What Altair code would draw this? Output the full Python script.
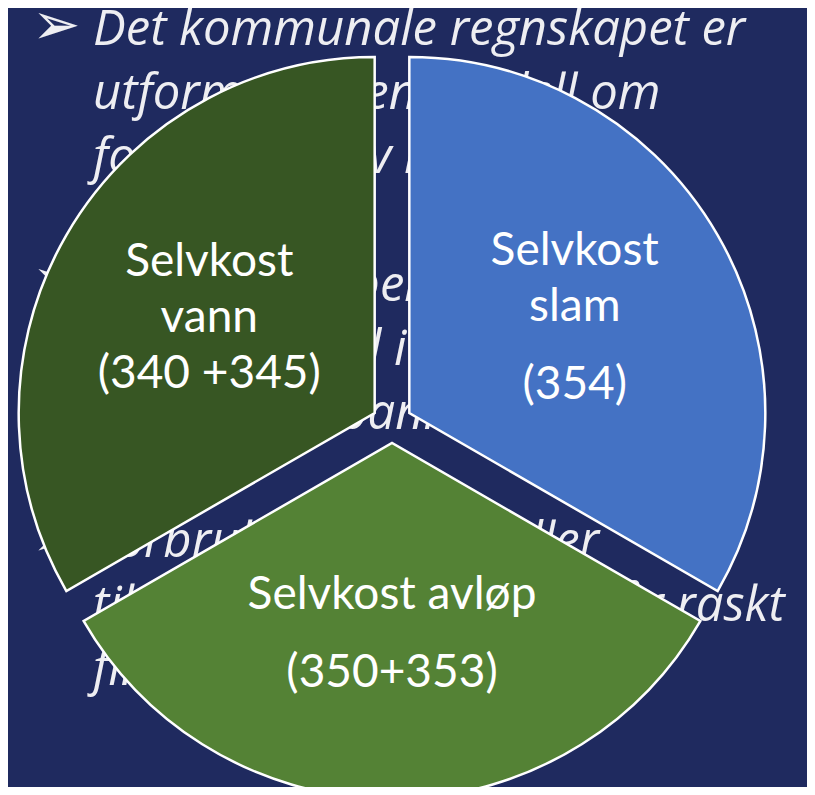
import altair as alt
import pandas as pd

# ---- data ----
slices = ["Selvkost slam", "Selvkost avløp", "Selvkost vann"]
shares = [1, 1, 1]
# label paragraphs; an empty line marks paragraph spacing
labels = ["Selvkost\nslam\n\n(354)", "Selvkost avløp\n\n(350+353)", "Selvkost\nvann\n(340 +345)"]
colors = ["#4472C4", "#548235", "#375623"]

bg_lines = [
    "Det kommunale regnskapet er",
    "utformet på en modell om",
    "forvaltning av midler",
    "Alle selvkostpenger står i",
    "på disse fond i",
    "kommunal bankkonto",
    "Forbruk av fondsmidler",
    "til de nye investeringer går raskt",
    "finansiering",
]
bg_rows = [0, 1, 2, 4, 5, 6, 8, 9, 10]
bullet_rows = [0, 4, 8]

# ---- layout / style constants ----
W, H = 799, 779
CX, CY = 384, 415      # pie centre (px)
EXPLODE = 20           # explode distance (px)
R = 356                # pie radius (px)
RL = 191               # label-block centre distance from slice tip (px)
LH = 56                # label line height (px)
PARA = 22              # extra paragraph spacing (px)
BG = "#1F2A5F"
TXT = "#EEEEF2"

pie_df = pd.DataFrame({"slice": slices, "share": shares,
                       "order": list(range(len(slices)))})

# slice angle bounds (in share units) for the label table
tot = sum(shares)
bounds, acc = {}, 0
for s, v in zip(slices, shares):
    bounds[s] = (acc, acc + v)
    acc += v

# split label paragraphs into text lines with their offset inside the block
rows = []
for s, lab in zip(slices, labels):
    off, items = 0.0, []
    for part in lab.split("\n"):
        if part == "":
            off += PARA
            continue
        items.append((part, off))
        off += LH
    height = items[-1][1]
    for part, o in items:
        rows.append({"slice": s, "text": part, "dy": o - height / 2,
                     "a0": bounds[s][0], "a1": bounds[s][1], "total": tot})
lab_df = pd.DataFrame(rows)

bg_df = pd.DataFrame({"line": bg_lines, "row": bg_rows})
bul_df = pd.DataFrame({"bullet": ["➢"] * len(bullet_rows), "row": bullet_rows})

arcs = (
    alt.Chart(pie_df)
    .transform_joinaggregate(total="sum(share)")
    .transform_window(cum="sum(share)", sort=[alt.SortField("order")])
    .transform_calculate(
        start="2*PI*(datum.cum - datum.share)/datum.total",
        end="2*PI*datum.cum/datum.total",
    )
    .transform_calculate(mid="(datum.start + datum.end)/2")
    .transform_calculate(
        cx=f"{CX} + {EXPLODE}*sin(datum.mid)",
        cy=f"{CY} - {EXPLODE}*cos(datum.mid)",
    )
    .mark_arc(radius=R, stroke="white", strokeWidth=2.5)
    .encode(
        x=alt.X("cx:Q", scale=None, axis=None),
        y=alt.Y("cy:Q", scale=None, axis=None),
        theta=alt.Theta("start:Q", scale=None, stack=None),
        theta2="end:Q",
        color=alt.Color("slice:N", scale=alt.Scale(domain=slices, range=colors), legend=None),
    )
)

labels_layer = (
    alt.Chart(lab_df)
    .transform_calculate(mid="PI*(datum.a0 + datum.a1)/datum.total")
    .transform_calculate(
        lx=f"{CX} + ({EXPLODE} + {RL})*sin(datum.mid)",
        ly=f"{CY} - ({EXPLODE} + {RL})*cos(datum.mid) + datum.dy",
    )
    .mark_text(font="Lato", fontSize=46, color="white", align="center", baseline="middle")
    .encode(
        x=alt.X("lx:Q", scale=None, axis=None),
        y=alt.Y("ly:Q", scale=None, axis=None),
        text="text:N",
    )
)

bg_text = (
    alt.Chart(bg_df)
    .transform_calculate(py="37 + 64*datum.row")
    .mark_text(font="Open Sans", fontStyle="italic", fontSize=49, color=TXT,
               align="left", baseline="alphabetic")
    .encode(x=alt.value(85), y=alt.Y("py:Q", scale=None, axis=None), text="line:N")
)

bullets = (
    alt.Chart(bul_df)
    .transform_calculate(py="19 + 64*datum.row")
    .mark_text(font="DejaVu Sans", fontSize=58, color=TXT,
               align="left", baseline="middle")
    .encode(x=alt.value(24), y=alt.Y("py:Q", scale=None, axis=None), text="bullet:N")
)

chart = (
    alt.layer(bg_text, bullets, arcs, labels_layer)
    .properties(width=W, height=H, padding=0, background=BG,
                autosize=alt.AutoSizeParams(type="none"))
    .configure_view(stroke=None)
)

chart.save("out.html", embed_options={"renderer": "svg", "actions": False})
